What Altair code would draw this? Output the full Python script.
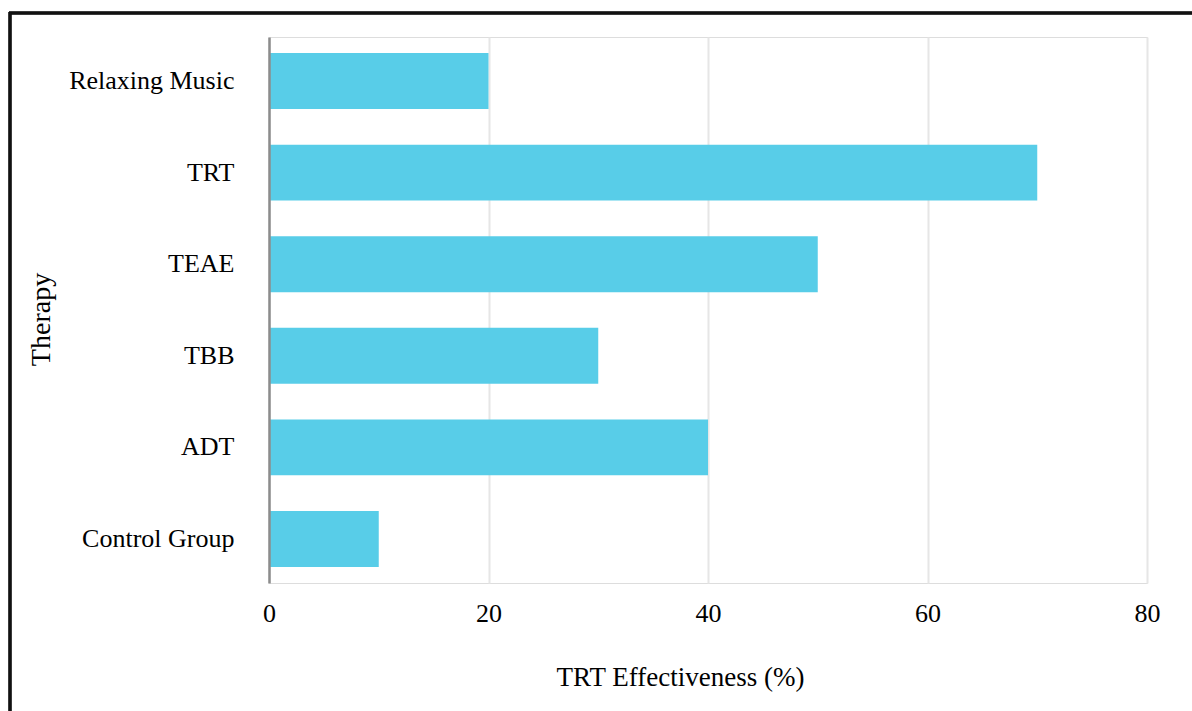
import altair as alt
import pandas as pd

therapies = ["Relaxing Music", "TRT", "TEAE", "TBB", "ADT", "Control Group"]
effectiveness = [20, 70, 50, 30, 40, 10]
x_ticks = [0, 20, 40, 60, 80]

df = pd.DataFrame({"Therapy": therapies, "Effectiveness": effectiveness})

FONT = "Liberation Serif"
W, H = 878, 546

bars = alt.Chart(df).mark_bar(color="#58CDE8").encode(
    x=alt.X(
        "Effectiveness:Q",
        scale=alt.Scale(domain=[0, 80], nice=False),
        axis=alt.Axis(
            values=x_ticks,
            title="TRT Effectiveness (%)",
            domain=False,
            ticks=False,
            grid=True,
            gridColor="#e6e6e6",
            gridWidth=2,
            labelFlush=False,
            labelFont=FONT,
            labelFontSize=26,
            labelColor="#000000",
            labelPadding=17,
            titleFont=FONT,
            titleFontSize=27,
            titleFontWeight="normal",
            titleColor="#000000",
            titleX=411,
            titleY=94,
            titleBaseline="middle",
            titleAlign="center",
        ),
    ),
    y=alt.Y(
        "Therapy:N",
        sort=therapies,
        scale=alt.Scale(paddingInner=0.39, paddingOuter=0.175),
        axis=alt.Axis(
            title="Therapy",
            domain=True,
            domainColor="#8c8c8c",
            domainWidth=2.5,
            ticks=False,
            grid=False,
            labelFont=FONT,
            labelFontSize=26,
            labelColor="#000000",
            labelPadding=35,
            titleFont=FONT,
            titleFontSize=28,
            titleFontWeight="normal",
            titleColor="#000000",
            titleAngle=270,
            titleX=-228,
            titleY=282,
            titleAlign="center",
            titleBaseline="middle",
            zindex=1,
        ),
    ),
)

# outer frame: top and left edges of the figure border
frame_top = alt.Chart(df).mark_rule(color="#111111", strokeWidth=2.5).encode(
    x=alt.value(-260), x2=alt.value(1000), y=alt.value(-24)
)
frame_left = alt.Chart(df).mark_rule(color="#111111", strokeWidth=2.5).encode(
    x=alt.value(-259), y=alt.value(-25), y2=alt.value(800)
)

chart = (
    alt.layer(bars, frame_top, frame_left)
    .properties(
        width=W,
        height=H,
        autosize=alt.AutoSizeParams(type="none"),
        padding={"left": 269, "top": 37, "right": 45, "bottom": 128},
    )
    .configure_view(stroke=None)
    .configure(background="white")
)

chart.save("out.html", embed_options={"renderer": "svg", "actions": False})
